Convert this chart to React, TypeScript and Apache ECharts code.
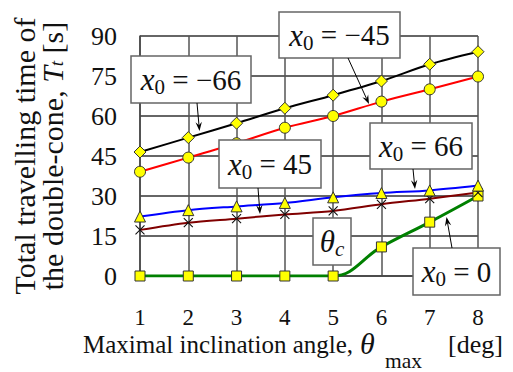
import React, { useEffect, useRef } from "react";
import * as echarts from "echarts";

// Maximal inclination angle θmax [deg]
const thetaMax = [1, 2, 3, 4, 5, 6, 7, 8];
// Value-axis ticks for total travelling time T_t [s]
const timeTicks = [0, 15, 30, 45, 60, 75, 90];

// Total travelling time for each starting position x0
const tMinus66 = [46.5, 51.9, 57.3, 62.9, 67.8, 73.1, 79.4, 84.1];
const tMinus45 = [39.1, 44.4, 49.8, 55.6, 60.0, 65.4, 70.0, 74.8];
const tPlus66 = [22.3, 24.7, 26.1, 27.4, 29.5, 31.1, 32.1, 33.9];
const tPlus45 = [17.3, 20.0, 21.5, 23.1, 24.4, 26.9, 29.0, 31.3];
const tZero = [0, 0, 0, 0, 0, 10.9, 20.2, 30.0];

const SERIF = "Liberation Serif";
const INK = "#111";
const MARKER_FILL = "#ffff00";
const MARKER_EDGE = "#333";
const WIDTH = 513;
const HEIGHT = 372;

const pairs = (ys: number[]) => thetaMax.map((x, i) => [x, ys[i]]);

// Rich-text styles for the boxed annotations: italic symbol, lowered subscript, upright rest
const boxRich = {
  i: { fontFamily: SERIF, fontStyle: "italic", fontSize: 31, lineHeight: 36, color: INK },
  s: { fontFamily: SERIF, fontSize: 21, lineHeight: 18, verticalAlign: "bottom", color: INK },
  si: { fontFamily: SERIF, fontStyle: "italic", fontSize: 21, lineHeight: 16, verticalAlign: "bottom", color: INK },
  n: { fontFamily: SERIF, fontSize: 29, lineHeight: 36, color: INK },
  th: { fontFamily: SERIF, fontStyle: "italic", fontSize: 31, lineHeight: 36, color: INK },
};

function box(x: number, y: number, w: number, h: number, text: string) {
  return [
    {
      type: "rect",
      z: 100,
      silent: true,
      shape: { x, y, width: w, height: h },
      style: { fill: "#fff", stroke: "#666", lineWidth: 1.5 },
    },
    {
      type: "text",
      z: 102,
      silent: true,
      x: x + w / 2,
      y: y + h / 2,
      style: {
        text,
        rich: boxRich,
        fontFamily: SERIF,
        fontSize: 29,
        fill: INK,
        align: "center",
        verticalAlign: "middle",
        textAlign: "center",
        textVerticalAlign: "middle",
      },
    },
  ];
}

// Single-run text placed by its alphabetic baseline (Liberation Serif: central line ≈ 0.3375 em above it)
function baselineText(
  text: string,
  x: number,
  baseline: number,
  fontSize: number,
  fontStyle: "normal" | "italic" = "normal"
) {
  return {
    type: "text",
    silent: true,
    x,
    y: baseline - 0.3375 * fontSize,
    style: {
      text,
      fontFamily: SERIF,
      fontSize,
      fontStyle,
      fill: INK,
      align: "left",
      verticalAlign: "middle",
      textAlign: "left",
      textVerticalAlign: "middle",
    },
  };
}

function arrow(x1: number, y1: number, x2: number, y2: number) {
  const dx = x2 - x1;
  const dy = y2 - y1;
  const len = Math.hypot(dx, dy);
  const ux = dx / len;
  const uy = dy / len;
  const nx = -uy;
  const ny = ux;
  const hl = 9;
  const hw = 3.2;
  const bx = x2 - ux * hl;
  const by = y2 - uy * hl;
  return [
    {
      type: "line",
      z: 101,
      silent: true,
      shape: { x1, y1, x2: bx + ux * 3, y2: by + uy * 3 },
      style: { stroke: "#000", lineWidth: 1 },
    },
    {
      type: "polygon",
      z: 101,
      silent: true,
      shape: {
        points: [
          [x2, y2],
          [bx + nx * hw, by + ny * hw],
          [x2 - ux * hl * 0.65, y2 - uy * hl * 0.65],
          [bx - nx * hw, by - ny * hw],
        ],
      },
      style: { fill: "#000" },
    },
  ];
}

function lineSeries(
  name: string,
  ys: number[],
  color: string,
  symbol: string,
  symbolSize: number,
  width = 2,
  extra: Record<string, unknown> = {}
) {
  return {
    name,
    type: "line",
    data: pairs(ys),
    smooth: 0.3,
    symbol,
    symbolSize,
    showAllSymbol: true,
    silent: true,
    lineStyle: { color, width },
    itemStyle: { color: MARKER_FILL, borderColor: MARKER_EDGE, borderWidth: 1 },
    ...extra,
  };
}

export default function App() {
  const ref = useRef<HTMLDivElement>(null);

  useEffect(() => {
    if (!ref.current) return;
    document.body.style.margin = "0";
    const chart = echarts.init(ref.current, undefined, {
      renderer: "svg",
      width: WIDTH,
      height: HEIGHT,
    });

    const option = {
      animation: false,
      textStyle: { fontFamily: SERIF },
      grid: { left: 140, right: 35, top: 36, bottom: 96, containLabel: false },
      xAxis: {
        type: "value",
        min: thetaMax[0],
        max: thetaMax[thetaMax.length - 1],
        interval: 1,
        axisLine: { show: true, lineStyle: { color: "#444", width: 1.5 } },
        axisTick: { show: false },
        axisLabel: { margin: 30, fontFamily: SERIF, fontSize: 23, color: INK },
        splitLine: { show: true, lineStyle: { color: "#555", width: 1.5 } },
      },
      yAxis: {
        type: "value",
        min: timeTicks[0],
        max: timeTicks[timeTicks.length - 1],
        interval: timeTicks[1] - timeTicks[0],
        axisLine: { show: true, lineStyle: { color: "#444", width: 1.5 } },
        axisTick: { show: false },
        axisLabel: { margin: 23, fontFamily: SERIF, fontSize: 26, color: INK },
        splitLine: { show: true, lineStyle: { color: "#333", width: 1.5 } },
        name: "Total travelling time of\nthe double-cone, {i|T}{s|t} [s]",
        nameLocation: "middle",
        nameRotate: 90,
        nameGap: 74,
        nameMoveOverlap: false,
        nameTextStyle: {
          fontFamily: SERIF,
          fontSize: 30,
          lineHeight: 28,
          color: INK,
          rich: {
            i: { fontFamily: SERIF, fontStyle: "italic", fontSize: 30, lineHeight: 28, color: INK },
            s: { fontFamily: SERIF, fontStyle: "italic", fontSize: 19, lineHeight: 12, verticalAlign: "bottom", color: INK },
          },
        },
      },
      series: [
        lineSeries("x0 = 0", tZero, "#008000", "rect", 10, 3, { smooth: 0.4 }),
        lineSeries("x0 = 45", tPlus45, "#800000", "path://M0,0L10,10M10,0L0,10", 9, 2, {
          itemStyle: { color: "#111", borderColor: "#111", borderWidth: 1.1 },
        }),
        lineSeries("x0 = 66", tPlus66, "#0000ff", "triangle", 11),
        lineSeries("x0 = -45", tMinus45, "#ff0000", "circle", 11),
        lineSeries("x0 = -66", tMinus66, "#000000", "diamond", 12),
      ],
      graphic: [
        // horizontal axis title: Maximal inclination angle, θ_max [deg]
        baselineText("Maximal inclination angle,", 83, 353, 25),
        baselineText("θ", 360, 354, 30, "italic"),
        baselineText("max", 385, 368, 21.5),
        baselineText("[deg]", 448, 353, 26),
        // annotation boxes and their pointers
        ...box(279, 12, 121, 46, "{i|x}{s|0}{n| = −45}"),
        ...arrow(348, 58, 369, 104),
        ...box(131, 56, 120, 47, "{i|x}{s|0}{n| = −66}"),
        ...arrow(197, 103, 199.5, 131),
        ...box(219, 140, 102, 48, "{i|x}{s|0}{n| = 45}"),
        ...arrow(258, 188, 260, 214),
        ...box(370, 123, 102, 46, "{i|x}{s|0}{n| = 66}"),
        ...arrow(413, 169, 415, 189),
        ...box(313, 218, 38, 47, "{th|θ}{si|c}"),
        ...box(413, 248, 87, 47, "{i|x}{s|0}{n| = 0}"),
        ...arrow(452, 248, 446.5, 217),
      ],
    };

    chart.setOption(option as any);
    return () => chart.dispose();
  }, []);

  return <div ref={ref} style={{ width: WIDTH, height: HEIGHT, background: "#fff" }} />;
}
